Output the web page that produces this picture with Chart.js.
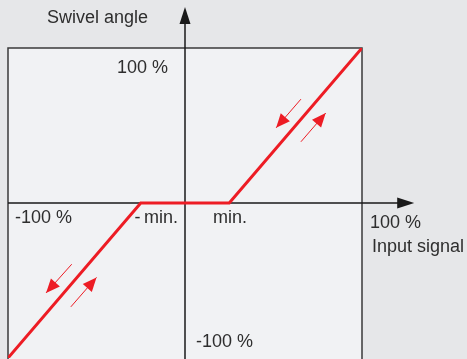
<!DOCTYPE html>
<html>
<head>
<meta charset="utf-8">
<script src="https://cdn.jsdelivr.net/npm/chart.js@4.4.1/dist/chart.umd.min.js"></script>
<style>
  html, body { margin: 0; padding: 0; background: #e6e7e9; }
  #wrap { width: 467px; height: 359px; position: relative; }
</style>
</head>
<body>
<div id="wrap"><canvas id="swivelChart"></canvas></div>
<script>
// Characteristic curve: input signal (%) -> swivel angle (%)
const inputSignal = [-100, -25, 25, 100];
const swivelAngle = [-100, 0, 0, 100];

// Axis captions and tick texts
const xTitle = 'Input signal';
const yTitle = 'Swivel angle';
const tickMax = '100 %';
const tickMin = '-100 %';
const minLabels = ['-\u2009min.', 'min.'];

// Direction arrows along the sloped branches: [fromX, fromY, toX, toY] in data units
const dirArrows = [
  [65.5, 67, 51.5, 48.5],
  [65.5, 39.5, 79.5, 58],
  [-64, -39.5, -78.5, -58],
  [-64.5, -67, -50, -48]
];

const RED = '#ed1c24';
const INK = '#2e2e2e';
const FONT = '18px "Liberation Sans", Arial, sans-serif';

function arrowHead(ctx, x1, y1, x2, y2, len, half) {
  const a = Math.atan2(y2 - y1, x2 - x1);
  ctx.beginPath();
  ctx.moveTo(x2, y2);
  ctx.lineTo(x2 - len * Math.cos(a) + half * Math.sin(a), y2 - len * Math.sin(a) - half * Math.cos(a));
  ctx.lineTo(x2 - len * Math.cos(a) - half * Math.sin(a), y2 - len * Math.sin(a) + half * Math.cos(a));
  ctx.closePath();
  ctx.fill();
}

const diagramPlugin = {
  id: 'diagram',
  beforeDatasetsDraw(chart) {
    const { ctx, chartArea: area, scales: { x, y } } = chart;
    const x0 = x.getPixelForValue(0);
    const y0 = y.getPixelForValue(0);
    ctx.save();

    // plot box
    ctx.fillStyle = '#f1f2f4';
    ctx.fillRect(area.left, area.top, area.right - area.left, chart.height - area.top);
    ctx.strokeStyle = '#3a3a3a';
    ctx.lineWidth = 1.5;
    ctx.beginPath();
    ctx.moveTo(area.left, chart.height);
    ctx.lineTo(area.left, area.top);
    ctx.lineTo(area.right, area.top);
    ctx.lineTo(area.right, chart.height);
    ctx.stroke();

    // axes with arrows
    ctx.strokeStyle = '#1a1a1a';
    ctx.fillStyle = '#1a1a1a';
    ctx.lineWidth = 1.5;
    const yTop = y.getPixelForValue(126.5);
    const xEnd = x.getPixelForValue(129.5);
    ctx.beginPath();
    ctx.moveTo(x0, chart.height);
    ctx.lineTo(x0, yTop + 10);
    ctx.moveTo(area.left, y0);
    ctx.lineTo(xEnd - 10, y0);
    ctx.stroke();
    arrowHead(ctx, x0, yTop + 20, x0, yTop, 17, 5.5);
    arrowHead(ctx, xEnd - 20, y0, xEnd, y0, 17, 5.5);

    // texts
    ctx.fillStyle = INK;
    ctx.font = FONT;
    ctx.textBaseline = 'alphabetic';
    ctx.textAlign = 'right';
    ctx.fillText(yTitle, x0 - 37, 23);
    ctx.fillText(tickMax, x0 - 17, y.getPixelForValue(100) + 25);
    ctx.fillText(minLabels[0], x0 - 7, y0 + 20);
    ctx.textAlign = 'left';
    ctx.fillText(tickMin, x.getPixelForValue(-100) + 7, y0 + 20);
    ctx.fillText(minLabels[1], x0 + 28, y0 + 20);
    ctx.fillText(tickMin, x0 + 11, y.getPixelForValue(-100) - 11);
    ctx.fillText(tickMax, x.getPixelForValue(100) + 8, y0 + 25);
    ctx.fillText(xTitle, x.getPixelForValue(100) + 10, y0 + 49);
    ctx.restore();
  },
  afterDatasetsDraw(chart) {
    const { ctx, scales: { x, y } } = chart;
    ctx.save();
    ctx.strokeStyle = RED;
    ctx.fillStyle = RED;
    ctx.lineWidth = 1;
    dirArrows.forEach(([fx, fy, tx, ty]) => {
      const x1 = x.getPixelForValue(fx), y1 = y.getPixelForValue(fy);
      const x2 = x.getPixelForValue(tx), y2 = y.getPixelForValue(ty);
      ctx.beginPath();
      ctx.moveTo(x1, y1);
      ctx.lineTo(x2, y2);
      ctx.stroke();
      arrowHead(ctx, x1, y1, x2, y2, 14, 6);
    });
    ctx.restore();
  }
};

new Chart(document.getElementById('swivelChart'), {
  type: 'line',
  data: {
    datasets: [{
      data: inputSignal.map((v, i) => ({ x: v, y: swivelAngle[i] })),
      borderColor: RED,
      borderWidth: 3,
      pointRadius: 0,
      tension: 0,
      fill: false
    }]
  },
  options: {
    responsive: true,
    maintainAspectRatio: false,
    animation: false,
    layout: { padding: { left: 8, right: 105, top: 48, bottom: 1 } },
    plugins: { legend: { display: false }, tooltip: { enabled: false } },
    scales: {
      x: { type: 'linear', min: -100, max: 100, display: false },
      y: { type: 'linear', min: -100, max: 100, display: false }
    }
  },
  plugins: [diagramPlugin]
});
</script>
</body>
</html>
